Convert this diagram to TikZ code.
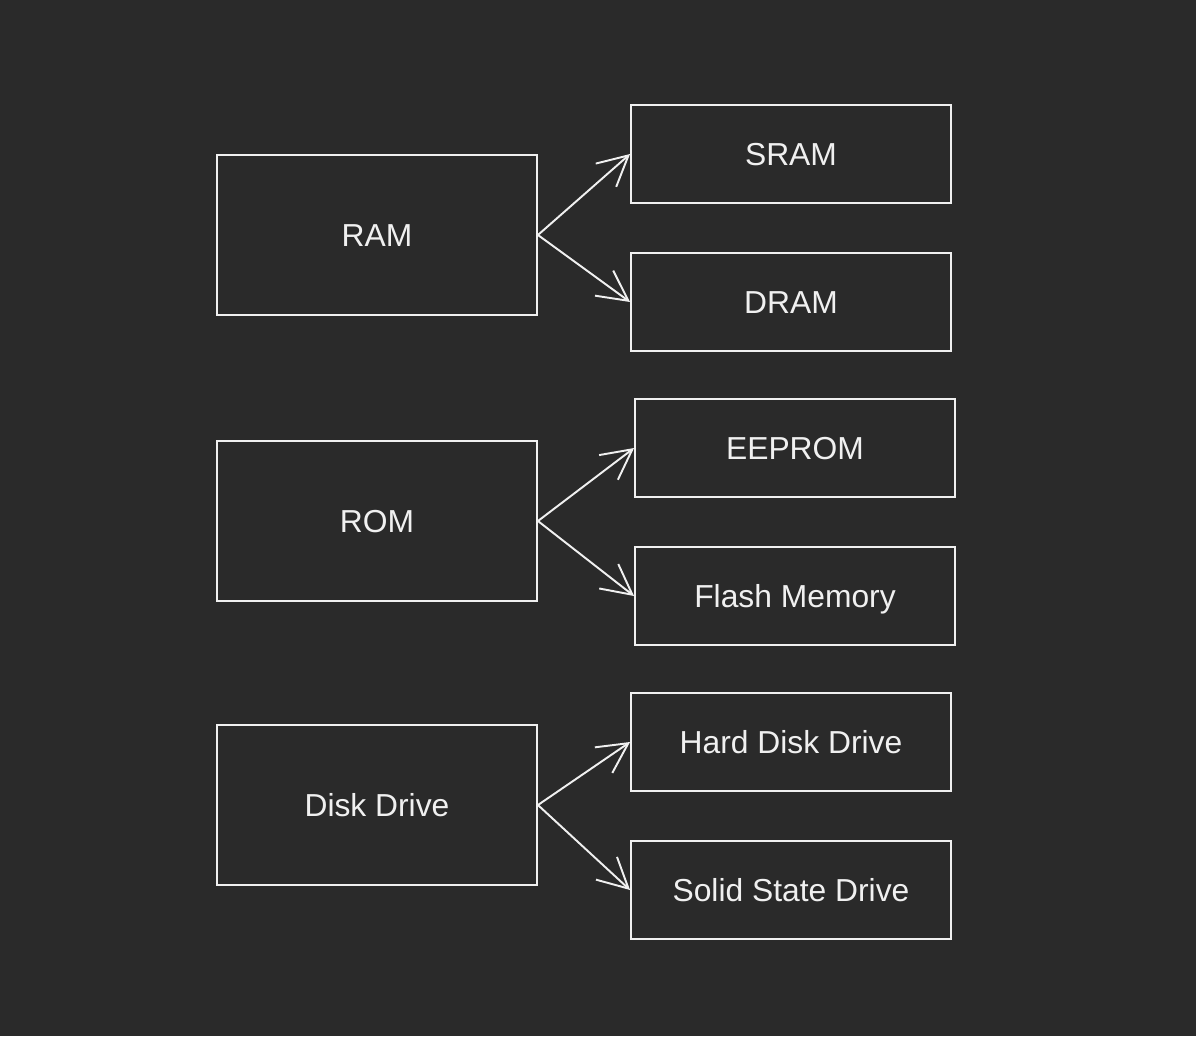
\documentclass[tikz,border=0pt]{standalone}
\usepackage{fontspec}
\setmainfont{Liberation Sans}
\usetikzlibrary{arrows.meta}
\definecolor{bgcol}{HTML}{2A2A2A}
\definecolor{fgcol}{HTML}{F0F0F0}

\begin{document}
\begin{tikzpicture}[x=0.02cm, y=-0.02cm,
        box/.style={draw=fgcol, line width=1.1pt, text=fgcol, font=\fontsize{18.1}{21}\selectfont,
            text height=13pt, text depth=0pt},
        big/.style={box, minimum width=6.4cm, minimum height=3.2cm},
        small/.style={box, minimum width=6.4cm, minimum height=1.96cm},
        link/.style={draw=fgcol, line width=1.1pt, -{Straight Barb[length=0.6cm, width=0.62cm]}}]
    \fill[bgcol] (0,0) rectangle (1196,1036);
    \useasboundingbox (0,0) rectangle (1196,1036);

    % main groups
    \node[big] (ram) at (377,235) {RAM};
    \node[big] (rom) at (377,521) {ROM};
    \node[big] (disk) at (377,805) {Disk Drive};

    % kinds
    \node[small] (sram) at (791,154) {SRAM};
    \node[small] (dram) at (791,302) {DRAM};
    \node[small] (eeprom) at (795,448) {EEPROM};
    \node[small] (flash) at (795,596) {Flash Memory};
    \node[small] (hdd) at (791,742) {Hard Disk Drive};
    \node[small] (ssd) at (791,890) {Solid State Drive};

    \draw[link] (ram.east) -- (sram.west);
    \draw[link] (ram.east) -- (dram.west);
    \draw[link] (rom.east) -- (eeprom.west);
    \draw[link] (rom.east) -- (flash.west);
    \draw[link] (disk.east) -- (hdd.west);
    \draw[link] (disk.east) -- (ssd.west);
\end{tikzpicture}
\end{document}
